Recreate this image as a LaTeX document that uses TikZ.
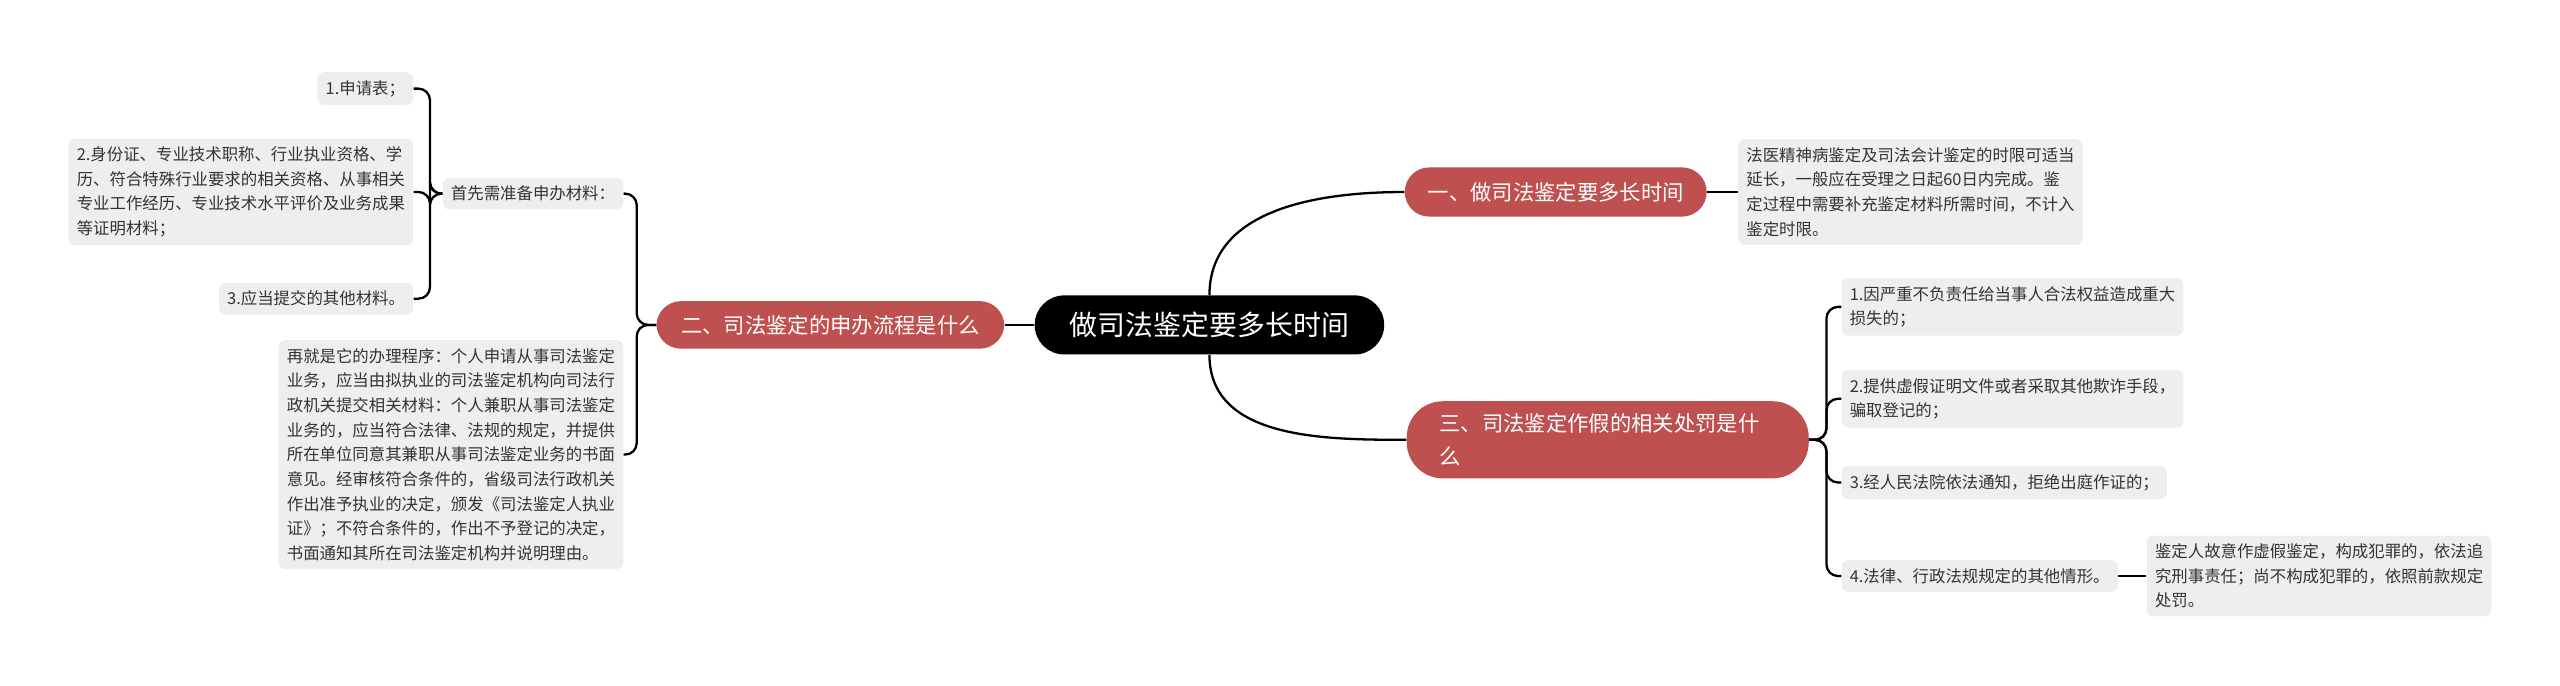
\documentclass[tikz,border=0pt]{standalone}
\usepackage{fontspec}
\setmainfont{Noto Sans CJK SC}
\definecolor{redn}{HTML}{BE5050}
\definecolor{boxg}{HTML}{EEEEEE}
\begin{document}
\begin{tikzpicture}[x=1pt,y=-1pt,
  leaf/.style={fill=boxg,rounded corners=4pt,inner xsep=5pt,inner ysep=5pt,align=left,font=\fontsize{10}{15}\selectfont,text=black!80},
  topic/.style={fill=redn,text=white,rounded corners=15pt,font=\fontsize{13}{20}\selectfont},
  link/.style={line width=1.4pt,black}]
\useasboundingbox (0,0) rectangle (1560,418);
\node[fill=black,text=white,rounded corners=18pt,minimum width=213pt,minimum height=36pt,font=\fontsize{17}{20}\selectfont] (root) at (737,198) {做司法鉴定要多长时间};
\node[topic,minimum width=184pt,minimum height=30pt] (yi) at (948,117) {一、做司法鉴定要多长时间};
\node[topic,anchor=west,text width=205pt,inner xsep=20pt,minimum height=47pt,align=left,rounded corners=22pt] (san) at (857,268) {三、司法鉴定作假的相关处罚是什\\么};
\node[topic,minimum width=212pt,minimum height=29pt] (er) at (506,198) {二、司法鉴定的申办流程是什么};
% right
\node[leaf,anchor=west] (fy) at (1059,117) {法医精神病鉴定及司法会计鉴定的时限可适当\\延长，一般应在受理之日起60日内完成。鉴\\定过程中需要补充鉴定材料所需时间，不计入\\鉴定时限。};
\node[leaf,anchor=west] (s1) at (1122,187) {1.因严重不负责任给当事人合法权益造成重大\\损失的；};
\node[leaf,anchor=west] (s2) at (1122,243) {2.提供虚假证明文件或者采取其他欺诈手段，\\骗取登记的；};
\node[leaf,anchor=west] (s3) at (1122,294) {3.经人民法院依法通知，拒绝出庭作证的；};
\node[leaf,anchor=west] (s4) at (1122,351) {4.法律、行政法规规定的其他情形。};
\node[leaf,anchor=west] (jd) at (1308,351) {鉴定人故意作虚假鉴定，构成犯罪的，依法追\\究刑事责任；尚不构成犯罪的，依照前款规定\\处罚。};
% left
\node[leaf,anchor=east] (sx) at (380,118) {首先需准备申办材料：};
\node[leaf,anchor=east] (zj) at (380,277) {再就是它的办理程序：个人申请从事司法鉴定\\业务，应当由拟执业的司法鉴定机构向司法行\\政机关提交相关材料：个人兼职从事司法鉴定\\业务的，应当符合法律、法规的规定，并提供\\所在单位同意其兼职从事司法鉴定业务的书面\\意见。经审核符合条件的，省级司法行政机关\\作出准予执业的决定，颁发《司法鉴定人执业\\证》；不符合条件的，作出不予登记的决定，\\书面通知其所在司法鉴定机构并说明理由。};
\node[leaf,anchor=east] (a1) at (252,54) {1.申请表；};
\node[leaf,anchor=east] (a2) at (252,117) {2.身份证、专业技术职称、行业执业资格、学\\历、符合特殊行业要求的相关资格、从事相关\\专业工作经历、专业技术水平评价及业务成果\\等证明材料；};
\node[leaf,anchor=east] (a3) at (252,182) {3.应当提交的其他材料。};
% links
\draw[link] (root.north) to[out=90,in=180] (yi.west);
\draw[link] (root.south) to[out=-90,in=180] (san.west);
\draw[link] (root.west) -- (er.east);
\draw[link] (yi.east) -- (fy.west);
\draw[link] (s4.east) -- (jd.west);
\foreach \c in {s1,s2,s3,s4}
  \draw[link,rounded corners=7pt] (san.east) -- (1113,268) |- (\c.west);
\foreach \c in {sx,zj}
  \draw[link,rounded corners=7pt] (er.west) -- (388,198) |- (\c.east);
\foreach \c in {a1,a2,a3}
  \draw[link,rounded corners=7pt] (sx.west) -- (262,118) |- (\c.east);
\end{tikzpicture}
\end{document}
